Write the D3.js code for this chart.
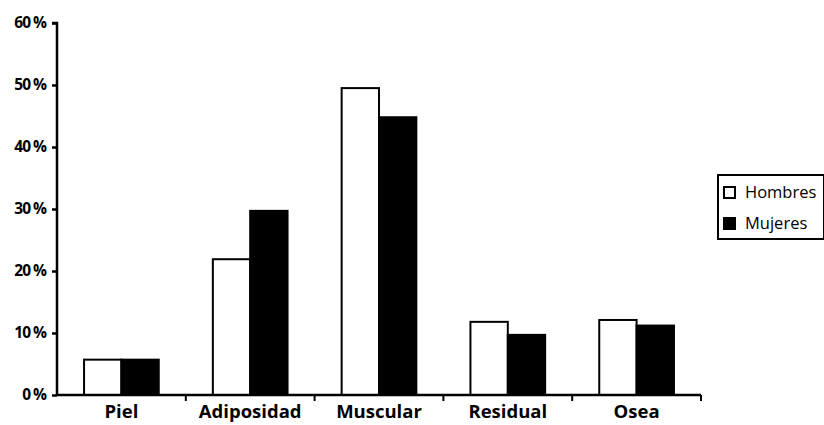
<!DOCTYPE html>
<html><head><meta charset="utf-8">
<script src="https://cdn.jsdelivr.net/npm/d3@7"></script>
<style>body{margin:0;background:#fff}svg{display:block}</style>
</head><body>
<svg id="c" width="824" height="425"></svg>
<script>
const categories = ["Piel","Adiposidad","Muscular","Residual","Osea"];
const seriesNames = ["Hombres","Mujeres"];
const hombres = [5.7, 21.9, 49.5, 11.8, 12.1];
const mujeres = [5.7, 29.7, 44.8, 9.7, 11.2];
const yTicks = [0,10,20,30,40,50,60];
const fills = ["#fff","#000"];

const svg = d3.select("#c");
const x0 = 57, x1 = 701, yTop = 23, yBot = 395;
const x = d3.scaleBand().domain(categories).range([x0, x1]).paddingInner(0).paddingOuter(0);
const y = d3.scaleLinear().domain([0,60]).range([yBot, yTop]);
const bw = x.bandwidth()*0.29;
const sub = d3.scaleBand().domain(seriesNames).range([0, bw*2]);
const data = [hombres, mujeres];

data.forEach((vals, si) => {
  svg.append("g").selectAll("rect").data(categories).join("rect")
    .attr("x", (c) => x(c) + x.bandwidth()/2 - bw + sub(seriesNames[si]))
    .attr("y", (c,i) => y(vals[i]))
    .attr("width", sub.bandwidth())
    .attr("height", (c,i) => yBot - y(vals[i]))
    .attr("fill", fills[si]).attr("stroke","#000").attr("stroke-width",2);
});

const font = "'Open Sans', 'DejaVu Sans', sans-serif";
// y axis
const ya = svg.append("g").attr("transform",`translate(${x0},0)`)
  .call(d3.axisLeft(y).tickValues(yTicks).tickSize(5).tickPadding(6).tickFormat(d => d + " %"));
ya.select(".domain").attr("stroke","#000").attr("stroke-width",2.5).attr("d",`M-5,${yTop}H0V${yBot}`);
ya.selectAll(".tick line").attr("stroke-width",2.5);
ya.selectAll("text").attr("font-family",font).attr("font-weight","bold").attr("font-size",15.5).attr("letter-spacing","-1px").attr("fill","#000");

// x axis
const xa = svg.append("g").attr("transform",`translate(0,${yBot})`);
xa.append("path").attr("d",`M${x0},0H${x1}`).attr("stroke","#000").attr("stroke-width",2.5);
xa.selectAll("line.t").data(categories).join("line").attr("class","t")
  .attr("x1", c => x(c)+x.bandwidth()).attr("x2", c => x(c)+x.bandwidth())
  .attr("y1",0).attr("y2",6).attr("stroke","#000").attr("stroke-width",2);
xa.selectAll("text").data(categories).join("text")
  .attr("x", c => x(c)+x.bandwidth()/2).attr("y",23)
  .attr("text-anchor","middle").attr("font-family",font).attr("font-weight","bold")
  .attr("font-size",18.5).attr("fill","#000").text(d => d);

// legend
const lg = svg.append("g");
lg.append("rect").attr("x",718).attr("y",175).attr("width",106).attr("height",64)
  .attr("fill","#fff").attr("stroke","#000").attr("stroke-width",2);
seriesNames.forEach((s,i) => {
  const yy = 193 + i*31;
  lg.append("rect").attr("x",724).attr("y",yy-6).attr("width",11).attr("height",11)
    .attr("fill",fills[i]).attr("stroke","#000").attr("stroke-width",2);
  lg.append("text").attr("x",745).attr("y",yy+5).attr("font-family",font)
    .attr("font-size",16.5).attr("fill","#000").text(s);
});
</script>
</body></html>
